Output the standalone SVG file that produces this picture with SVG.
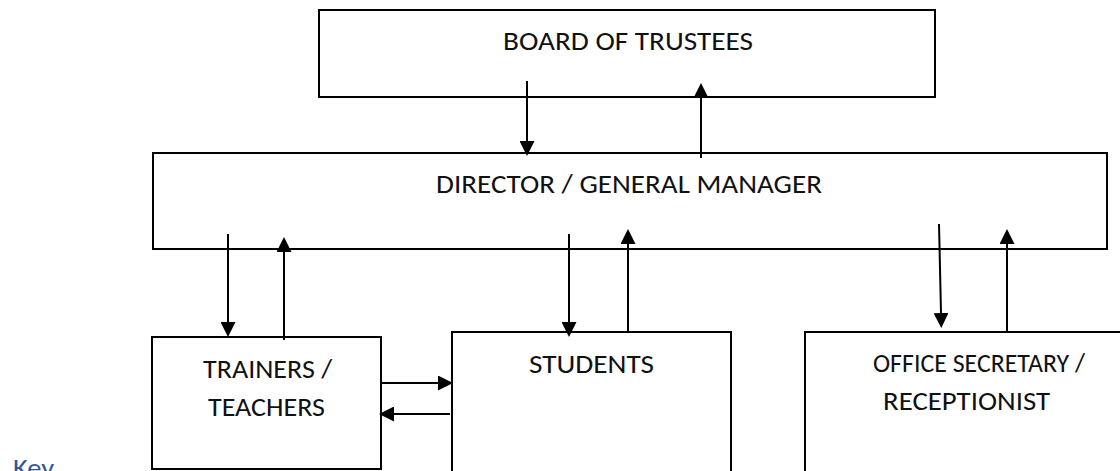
<svg xmlns="http://www.w3.org/2000/svg" width="1120" height="471" viewBox="0 0 1120 471">
  <style>
    .box { fill: #ffffff; stroke: #000000; stroke-width: 2; }
    .lbl { font-family: Carlito, Lato, "Liberation Sans", sans-serif; font-size: 27px; fill: #111111; }
    .key { font-family: Carlito, Lato, "Liberation Sans", sans-serif; font-size: 27px; fill: #2F5597; }
    .conn { stroke: #000000; stroke-width: 2; fill: none; marker-end: url(#ah); }
  </style>
  <defs>
    <marker id="ah" markerUnits="userSpaceOnUse" viewBox="0 0 15 15" markerWidth="15" markerHeight="15" refX="0" refY="7.5" orient="auto">
      <path d="M0,0 L15,7.5 L0,15 z" fill="#000000"/>
    </marker>
  </defs>
  <rect width="1120" height="471" fill="#ffffff"/>

  <g id="board">
    <rect class="box" x="319" y="10" width="616" height="87"/>
    <text class="lbl" x="503" y="50" textLength="250" lengthAdjust="spacingAndGlyphs">BOARD OF TRUSTEES</text>
  </g>
  <g id="director">
    <rect class="box" x="153" y="153" width="954" height="96"/>
    <text class="lbl" x="436" y="193" textLength="386" lengthAdjust="spacingAndGlyphs">DIRECTOR / GENERAL MANAGER</text>
  </g>
  <g id="trainers">
    <rect class="box" x="152" y="337" width="229" height="132"/>
    <text class="lbl" x="203" y="378" textLength="129" lengthAdjust="spacingAndGlyphs">TRAINERS /</text>
    <text class="lbl" x="208" y="416" textLength="117" lengthAdjust="spacingAndGlyphs">TEACHERS</text>
  </g>
  <g id="students">
    <rect class="box" x="452" y="332" width="279" height="150"/>
    <text class="lbl" x="529" y="373" textLength="125" lengthAdjust="spacingAndGlyphs">STUDENTS</text>
  </g>
  <g id="office">
    <rect class="box" x="805" y="332" width="330" height="150"/>
    <text class="lbl" x="873" y="372" textLength="212" lengthAdjust="spacingAndGlyphs">OFFICE SECRETARY /</text>
    <text class="lbl" x="883" y="410" textLength="167" lengthAdjust="spacingAndGlyphs">RECEPTIONIST</text>
  </g>
  <g id="key">
    <text class="key" x="13" y="477" textLength="41" lengthAdjust="spacingAndGlyphs">Key</text>
  </g>

  <g id="connectors">
    <line class="conn" x1="527" y1="81" x2="527" y2="141"/>
    <line class="conn" x1="701" y1="158" x2="701" y2="98"/>
    <line class="conn" x1="228" y1="234" x2="228" y2="322"/>
    <line class="conn" x1="284" y1="340" x2="284" y2="252"/>
    <line class="conn" x1="569" y1="234" x2="569" y2="322"/>
    <line class="conn" x1="628" y1="333" x2="628" y2="244"/>
    <line class="conn" x1="939" y1="224" x2="941" y2="313"/>
    <line class="conn" x1="1007" y1="333" x2="1007" y2="244"/>
    <line class="conn" x1="381" y1="383" x2="438" y2="383"/>
    <line class="conn" x1="450" y1="414" x2="394" y2="414"/>
  </g>
</svg>
